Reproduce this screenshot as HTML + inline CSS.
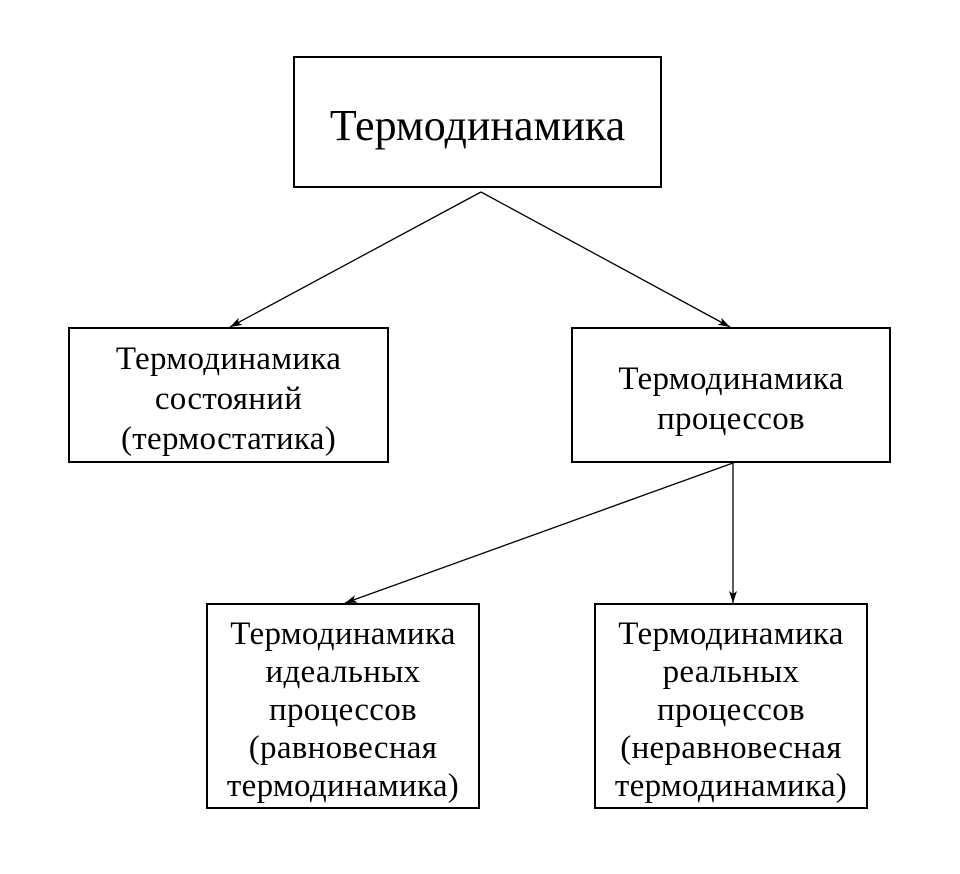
<!DOCTYPE html>
<html><head><meta charset="utf-8"><style>
body{margin:0;background:#fff;width:960px;height:874px;position:relative;overflow:hidden;font-family:"Liberation Serif",serif;color:#000}
.b{position:absolute;border:2px solid #000;box-sizing:border-box;display:flex;align-items:center;justify-content:center;text-align:center;font-size:33px;letter-spacing:0.3px;padding-top:7px}
</style></head><body>
<svg width="960" height="874" style="position:absolute;left:0;top:0">
<defs><marker id="a" markerWidth="12" markerHeight="8" refX="12" refY="4" orient="auto" markerUnits="userSpaceOnUse"><path d="M0,0 L12,4 L0,8 L3,4 Z" fill="#000"/></marker></defs>
<g stroke="#000" stroke-width="1.3" fill="none">
<line x1="481" y1="192" x2="230" y2="327" marker-end="url(#a)"/>
<line x1="481" y1="192" x2="730" y2="327" marker-end="url(#a)"/>
<line x1="733" y1="463" x2="345" y2="603" marker-end="url(#a)"/>
<line x1="733" y1="463" x2="733" y2="603" marker-end="url(#a)"/>
</g></svg>
<div class="b" style="left:293px;top:56px;width:369px;height:132px;font-size:44px;letter-spacing:0">Термодинамика</div>
<div class="b" style="left:68px;top:327px;width:321px;height:136px;line-height:40px">Термодинамика<br>состояний<br>(термостатика)</div>
<div class="b" style="left:571px;top:327px;width:320px;height:136px;line-height:40px">Термодинамика<br>процессов</div>
<div class="b" style="left:206px;top:603px;width:274px;height:206px;line-height:38px">Термодинамика<br>идеальных<br>процессов<br>(равновесная<br>термодинамика)</div>
<div class="b" style="left:594px;top:603px;width:274px;height:206px;line-height:38px">Термодинамика<br>реальных<br>процессов<br>(неравновесная<br>термодинамика)</div>
</body></html>
